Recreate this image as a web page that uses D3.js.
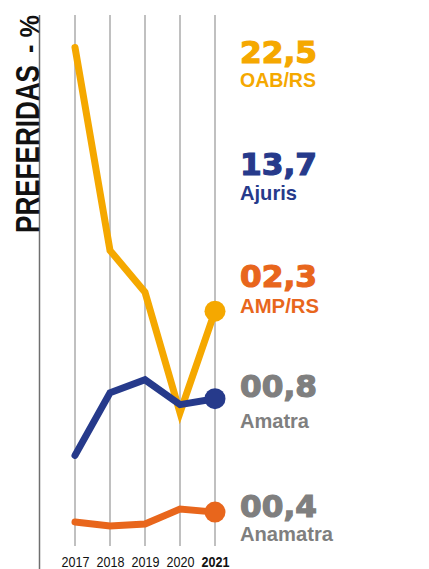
<!DOCTYPE html>
<html>
<head>
<meta charset="utf-8">
<script src="https://cdn.jsdelivr.net/npm/d3@7"></script>
<style>
  html, body { margin: 0; padding: 0; background: #fff; }
  svg { display: block; }
</style>
</head>
<body>
<div id="chart"></div>
<script>
// ---- data ----
const years = [2017, 2018, 2019, 2020, 2021];
const oabValues = [49.0, 28.6, 24.4, 12.3, 22.5];
const ajurisValues = [8.0, 14.3, 15.6, 13.1, 13.7];
const ampValues = [1.3, 0.9, 1.1, 2.6, 2.3];

const labelNames = ["OAB/RS", "Ajuris", "AMP/RS", "Amatra", "Anamatra"];
const labelValues = ["22,5", "13,7", "02,3", "00,8", "00,4"];
const labelColors = ["#F5A800", "#263A8B", "#E8661C", "#7F7F7F", "#7F7F7F"];

const titleMain = "PREFERIDAS";
const titleUnit = "- %";

// ---- layout ----
const W = 429, H = 569;
const svg = d3.select("#chart").append("svg").attr("width", W).attr("height", H);

const x = d3.scalePoint().domain(years).range([75, 215]);
const y = d3.scaleLinear().domain([0, 50]).range([535, 37.5]);

// left axis line
svg.append("line")
  .attr("x1", 39.5).attr("x2", 39.5).attr("y1", 15).attr("y2", H)
  .attr("stroke", "#6f6f6f").attr("stroke-width", 1.5);

// vertical gridlines
svg.append("g").selectAll("line").data(years).join("line")
  .attr("x1", d => x(d)).attr("x2", d => x(d))
  .attr("y1", 15).attr("y2", 546)
  .attr("stroke", "#ababab").attr("stroke-width", 1.5);

// x axis labels
const xAxis = svg.append("g")
  .attr("transform", "translate(0,554)")
  .call(d3.axisBottom(x).tickSize(0).tickPadding(0));
xAxis.select(".domain").remove();
xAxis.selectAll("text")
  .attr("dy", "0.92em")
  .attr("font-family", "'Liberation Sans', Arial, sans-serif")
  .attr("font-size", 14)
  .attr("textLength", 28)
  .attr("lengthAdjust", "spacingAndGlyphs")
  .attr("fill", "#111")
  .attr("font-weight", d => d === 2021 ? "bold" : "normal");

// title
svg.append("text")
  .attr("transform", "translate(38.5,233) rotate(-90)")
  .attr("font-family", "'Liberation Sans', Arial, sans-serif")
  .attr("font-weight", "bold")
  .attr("font-size", 34)
  .attr("textLength", 168)
  .attr("lengthAdjust", "spacingAndGlyphs")
  .attr("fill", "#111")
  .text(titleMain);
svg.append("text")
  .attr("transform", "translate(38.5,53) rotate(-90)")
  .attr("font-family", "'Liberation Sans', Arial, sans-serif")
  .attr("font-weight", "bold")
  .attr("font-size", 28)
  .attr("textLength", 38)
  .attr("lengthAdjust", "spacingAndGlyphs")
  .attr("fill", "#111")
  .text(titleUnit);

// lines
const line = d3.line().x((d, i) => x(years[i])).y(d => y(d));
const series = [
  { values: oabValues, color: labelColors[0] },
  { values: ajurisValues, color: labelColors[1] },
  { values: ampValues, color: labelColors[2] }
];
series.forEach(s => {
  svg.append("path")
    .attr("d", line(s.values))
    .attr("fill", "none")
    .attr("stroke", s.color)
    .attr("stroke-width", 7)
    .attr("stroke-linejoin", "miter")
    .attr("stroke-miterlimit", 10)
    .attr("stroke-linecap", "round");
  svg.append("circle")
    .attr("cx", x(years[years.length - 1]))
    .attr("cy", y(s.values[s.values.length - 1]))
    .attr("r", 10.5)
    .attr("fill", s.color);
});

// right labels
const numBase = [63, 175, 287, 397, 517];
const nameBase = [87, 200, 313, 428, 541];
const nameWidths = [76, 57, 79, 69, 93];
labelNames.forEach((n, i) => {
  svg.append("text")
    .attr("x", 240).attr("y", numBase[i])
    .attr("font-family", "'DejaVu Sans', sans-serif")
    .attr("font-weight", "bold")
    .attr("font-size", 30)
    .attr("textLength", 77)
    .attr("lengthAdjust", "spacingAndGlyphs")
    .attr("fill", labelColors[i])
    .attr("stroke", labelColors[i])
    .attr("stroke-width", 1.2)
    .text(labelValues[i]);
  svg.append("text")
    .attr("x", 240).attr("y", nameBase[i])
    .attr("font-family", "'Liberation Sans', Arial, sans-serif")
    .attr("font-weight", "bold")
    .attr("font-size", 21)
    .attr("textLength", nameWidths[i])
    .attr("lengthAdjust", "spacingAndGlyphs")
    .attr("fill", labelColors[i])
    .text(n);
});
</script>
</body>
</html>
